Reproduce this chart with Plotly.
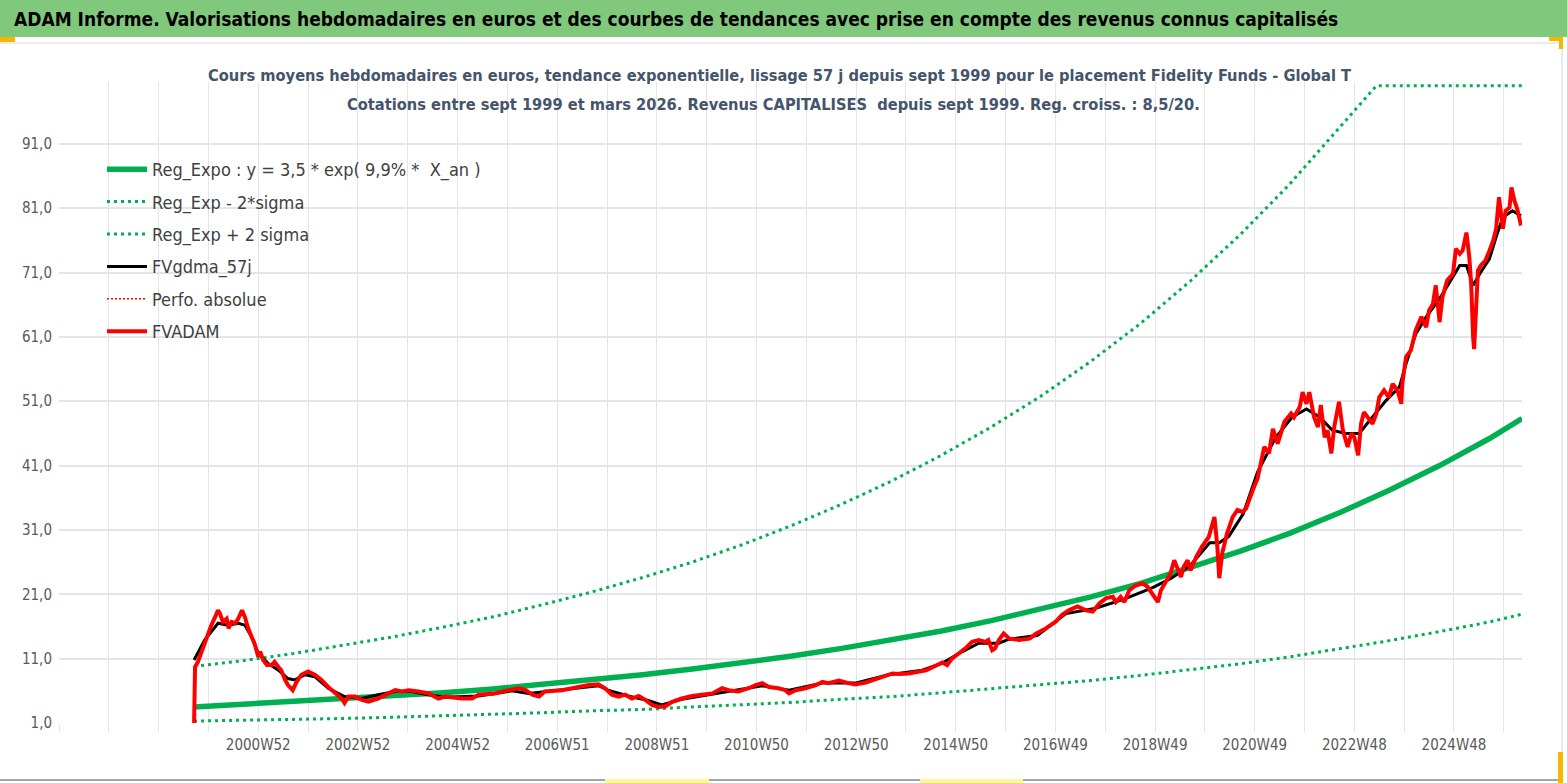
import plotly.graph_objects as go

# ---------------- data (week index 0 = 1999W36) ----------------
tick_labels = ["2000W52", "2002W52", "2004W52", "2006W51", "2008W51", "2010W50", "2012W50",
               "2014W50", "2016W49", "2018W49", "2020W49", "2022W48", "2024W48"]

trend_weeks = [0, 52, 104, 156, 208, 260, 312, 364, 416, 468, 520, 572, 624, 676, 728, 780,
               832, 884, 936, 988, 1040, 1092, 1144, 1196, 1248, 1300, 1352, 1386]
trend_vals = [3.5, 3.9, 4.3, 4.7, 5.2, 5.7, 6.3, 7.0, 7.7, 8.5, 9.4, 10.3, 11.4, 12.6, 13.9, 15.3,
              16.9, 18.7, 20.6, 22.7, 25.1, 27.7, 30.5, 33.7, 37.2, 41.0, 45.2, 48.3]
lower_vals = [1.3, 1.4, 1.6, 1.7, 1.9, 2.1, 2.3, 2.6, 2.9, 3.1, 3.5, 3.8, 4.2, 4.7, 5.1, 5.7,
              6.3, 6.9, 7.6, 8.4, 9.3, 10.2, 11.3, 12.5, 13.8, 15.2, 16.7, 17.9]
upper_weeks = [0, 52, 104, 156, 208, 260, 312, 364, 416, 468, 520, 572, 624, 676, 728, 780,
               832, 884, 936, 988, 1040, 1092, 1144, 1196, 1234, 1248, 1300, 1352, 1386]
upper_vals = [9.8, 10.7, 11.8, 13.1, 14.4, 15.9, 17.5, 19.4, 21.4, 23.6, 26.0, 28.7, 31.7, 35.0,
              38.6, 42.6, 47.0, 51.8, 57.2, 63.1, 69.7, 76.9, 84.8, 93.6, 100, 100, 100, 100, 100]

red_weeks = [0, 1, 4, 9, 15, 18, 22, 25, 27, 30, 34, 36, 39, 43, 46, 50, 53, 56, 60, 63, 67, 69, 72,
             76, 81, 84, 88, 91, 95, 98, 103, 107, 112, 119, 126, 133, 140, 147, 154, 157, 161, 168,
             175, 182, 192, 203, 210, 217, 224, 234, 245, 255, 262, 279, 290, 297, 314, 328, 339,
             346, 353, 360, 366, 384, 401, 412, 422, 429, 436, 443, 450, 457, 464, 471, 478, 485,
             492, 499, 509, 520, 530, 541, 551, 558, 568, 579, 586, 593, 600, 610, 617, 621, 628,
             638, 649, 656, 662, 673, 683, 690, 701, 711, 718, 729, 736, 746, 757, 764, 774, 781,
             786, 791, 798, 805, 812, 819, 826, 829, 833, 836, 840, 845, 851, 861, 872, 879, 889,
             899, 906, 913, 922, 931, 938, 945, 952, 959, 962, 967, 971, 976, 983, 990, 995, 1000,
             1006, 1009, 1014, 1019, 1023, 1026, 1030, 1033, 1037, 1040, 1046, 1052, 1059, 1065,
             1068, 1070, 1073, 1078, 1084, 1089, 1094, 1098, 1101, 1105, 1110, 1115, 1117, 1122,
             1126, 1131, 1138, 1145, 1148, 1154, 1157, 1161, 1164, 1169, 1173, 1176, 1180, 1183,
             1187, 1190, 1195, 1199, 1204, 1208, 1211, 1215, 1218, 1221, 1225, 1230, 1234, 1237,
             1242, 1247, 1251, 1256, 1260, 1261, 1265, 1270, 1275, 1281, 1286, 1289, 1293, 1296,
             1300, 1303, 1308, 1314, 1317, 1321, 1324, 1328, 1331, 1333, 1335, 1336, 1338, 1340,
             1343, 1348, 1352, 1356, 1359, 1362, 1366, 1369, 1373, 1375, 1378, 1381, 1385]
red_vals = [1.0, 9.7, 10.5, 12.7, 15.2, 16.2, 17.5, 18.5, 18.0, 16.7, 17.2, 15.7, 16.7, 16.5, 17.2,
            18.5, 17.5, 15.9, 14.4, 13.4, 11.3, 12.1, 10.8, 10.0, 10.0, 10.5, 9.7, 9.2, 7.7, 6.9,
            6.1, 7.4, 8.5, 9.0, 8.5, 7.7, 6.6, 5.6, 4.8, 4.1, 5.1, 5.1, 4.6, 4.3, 4.8, 5.6, 6.1,
            5.9, 6.1, 5.9, 5.6, 4.8, 5.1, 4.8, 4.8, 5.4, 5.6, 6.1, 6.4, 6.1, 5.4, 5.1, 5.9, 6.1,
            6.6, 6.9, 7.0, 6.4, 5.4, 5.1, 5.4, 4.8, 5.2, 4.6, 3.8, 3.5, 3.6, 4.3, 4.8, 5.2, 5.4,
            5.6, 6.4, 6.1, 5.9, 6.4, 6.9, 7.2, 6.6, 6.4, 6.1, 5.6, 6.1, 6.4, 6.9, 7.4, 7.2, 7.6,
            7.2, 7.0, 7.3, 7.8, 8.1, 8.7, 8.6, 8.7, 9.0, 9.2, 9.9, 10.4, 10.0, 11.0, 11.8, 12.6,
            13.6, 13.9, 13.6, 13.9, 12.3, 12.6, 13.9, 14.9, 14.1, 13.9, 14.1, 14.9, 15.7, 16.7,
            17.8, 18.5, 19.1, 18.5, 18.3, 19.6, 20.4, 20.6, 19.8, 20.6, 19.8, 21.6, 22.4, 22.7,
            22.2, 21.1, 19.8, 21.6, 22.9, 24.2, 26.3, 25.0, 23.7, 25.3, 26.3, 24.7, 26.8, 28.4,
            29.9, 33.0, 28.4, 23.5, 27.3, 30.4, 33.0, 34.1, 33.8, 34.3, 35.6, 37.2, 39.0, 42.1,
            43.9, 42.9, 46.7, 44.4, 47.8, 49.1, 48.5, 50.1, 52.4, 50.6, 52.4, 48.5, 47.0, 50.4,
            45.4, 46.5, 42.9, 47.0, 50.9, 46.5, 43.9, 46.0, 45.4, 42.6, 47.5, 49.3, 48.5, 47.5,
            49.1, 51.6, 52.7, 51.6, 53.7, 52.7, 50.6, 53.7, 57.9, 58.9, 62.0, 64.1, 62.5, 65.1,
            66.1, 69.0, 63.3, 67.2, 69.8, 70.8, 74.7, 73.9, 74.4, 77.2, 73.4, 69.0, 60.9, 59.1,
            65.1, 71.3, 72.1, 72.9, 74.4, 76.0, 77.8, 82.7, 77.8, 80.6, 81.1, 84.2, 82.2, 80.9,
            78.3]

black_weeks = [0, 11, 25, 35, 46, 53, 60, 67, 77, 88, 98, 105, 116, 126, 140, 157, 175, 192, 210,
               227, 244, 262, 297, 332, 349, 366, 401, 422, 432, 453, 474, 488, 509, 537, 565, 593,
               621, 656, 690, 725, 760, 781, 802, 819, 840, 850, 880, 910, 940, 970, 1000, 1020,
               1040, 1060, 1070, 1080, 1095, 1110, 1129, 1146, 1161, 1175, 1188, 1202, 1216, 1230,
               1244, 1258, 1265, 1275, 1286, 1300, 1314, 1321, 1328, 1335, 1342, 1352, 1359, 1366,
               1376, 1385]
black_vals = [10.8, 13.9, 16.5, 16.2, 16.5, 16.2, 14.4, 11.8, 10.3, 9.2, 7.9, 7.7, 8.5, 8.2, 6.4,
              5.1, 4.8, 5.4, 5.9, 5.9, 5.4, 5.0, 5.2, 6.0, 5.6, 5.9, 6.5, 6.8, 6.1, 5.2, 4.5, 3.8,
              4.7, 5.4, 6.1, 6.8, 6.1, 7.2, 7.2, 8.5, 9.2, 10.3, 12.1, 13.4, 13.4, 14.0, 14.6, 18.0,
              18.8, 20.2, 22.0, 23.5, 25.5, 29.0, 29.0, 30.0, 33.5, 40.0, 45.4, 48.5, 49.8, 48.5,
              46.5, 46.0, 46.0, 48.5, 51.1, 53.2, 56.8, 61.4, 64.1, 66.9, 70.3, 72.1, 72.1, 69.0,
              70.8, 73.1, 76.5, 79.6, 80.6, 79.8]

y_ticks = [1, 11, 21, 31, 41, 51, 61, 71, 81, 91]

# ---------------- layout geometry (pixels) ----------------
W, H = 1567, 783
L, R, T, B = 59, 1522, 82, 723
X_MIN, X_MAX = -141, 1386
Y_MIN, Y_MAX = 1, 100.6


def px(x):
    return (x - L) / (R - L)


def py(y):
    return (B - y) / (B - T)


FONT = "DejaVu Sans Condensed, Liberation Sans Narrow, Arial Narrow, sans-serif"
GREEN = "#00B050"
GRID = "#E3E5EB"
DOT = "3px,4px"

fig = go.Figure()
fig.add_trace(go.Scatter(x=trend_weeks, y=trend_vals, mode="lines", legendgroup="a",
                         name="Reg_Expo : y = 3,5 * exp( 9,9% *  X_an )",
                         line=dict(color=GREEN, width=5.5)))
fig.add_trace(go.Scatter(x=trend_weeks, y=lower_vals, mode="lines", name="Reg_Exp - 2*sigma",
                         legendgroup="b", line=dict(color=GREEN, width=3, dash=DOT)))
fig.add_trace(go.Scatter(x=upper_weeks, y=upper_vals, mode="lines", name="Reg_Exp + 2 sigma",
                         legendgroup="c", line=dict(color=GREEN, width=3, dash=DOT)))
fig.add_trace(go.Scatter(x=black_weeks, y=black_vals, mode="lines", name="FVgdma_57j",
                         legendgroup="d", line=dict(color="black", width=3)))
fig.add_trace(go.Scatter(x=red_weeks, y=red_vals, mode="lines", name="Perfo. absolue",
                         legendgroup="e", line=dict(color="#FF0000", width=1.5, dash="2px,2px")))
fig.add_trace(go.Scatter(x=red_weeks, y=red_vals, mode="lines", name="FVADAM",
                         legendgroup="f", line=dict(color="#FF0000", width=4)))

grid_vals = list(range(X_MIN, X_MAX, 52))
grid_text = []
for g in grid_vals:
    k = (g - 67)
    if k >= 0 and k % 104 == 0 and k // 104 < len(tick_labels):
        grid_text.append(tick_labels[k // 104])
    else:
        grid_text.append("")

shapes = [
    dict(type="rect", xref="paper", yref="paper", x0=px(0), x1=px(W), y0=py(37), y1=py(-2),
         fillcolor="#80C87C", line=dict(width=0), layer="below"),
    dict(type="line", xref="paper", yref="paper", x0=px(0), x1=px(1562), y0=py(43), y1=py(43),
         line=dict(color=GRID, width=1.5)),
    dict(type="line", xref="paper", yref="paper", x0=px(1562), x1=px(1562), y0=py(43), y1=py(781),
         line=dict(color=GRID, width=1.5)),
    dict(type="line", xref="paper", yref="paper", x0=px(0), x1=px(1562), y0=py(780), y1=py(780),
         line=dict(color="#A6A6A6", width=2)),
    dict(type="rect", xref="paper", yref="paper", x0=px(0), x1=px(15), y0=py(42), y1=py(37),
         fillcolor="#F5B800", line=dict(width=0)),
    dict(type="rect", xref="paper", yref="paper", x0=px(1549), x1=px(1563), y0=py(41), y1=py(37),
         fillcolor="#F5B800", line=dict(width=0)),
    dict(type="rect", xref="paper", yref="paper", x0=px(1559), x1=px(1563), y0=py(49), y1=py(37),
         fillcolor="#F5B800", line=dict(width=0)),
    dict(type="rect", xref="paper", yref="paper", x0=px(1558), x1=px(1563), y0=py(783), y1=py(752),
         fillcolor="#F5B800", line=dict(width=0)),
    dict(type="rect", xref="paper", yref="paper", x0=px(605), x1=px(709), y0=py(783), y1=py(779),
         fillcolor="#FFF59D", line=dict(width=0)),
    dict(type="rect", xref="paper", yref="paper", x0=px(920), x1=px(1023), y0=py(783), y1=py(779),
         fillcolor="#FFF59D", line=dict(width=0)),
]

annotations = [
    dict(xref="paper", yref="paper", x=px(12), y=py(19), xanchor="left", yanchor="middle",
         text="<b>ADAM Informe. Valorisations hebdomadaires en euros et des courbes de tendances avec prise en compte des revenus connus capitalisés</b>",
         showarrow=False, font=dict(family=FONT, size=19, color="black")),
    dict(xref="paper", yref="paper", x=px(779), y=py(75), xanchor="center", yanchor="middle",
         text="<b>Cours moyens hebdomadaires en euros, tendance exponentielle, lissage 57 j depuis sept 1999 pour le placement Fidelity Funds - Global T</b>",
         showarrow=False, font=dict(family=FONT, size=16.3, color="#44546A")),
    dict(xref="paper", yref="paper", x=px(773), y=py(104), xanchor="center", yanchor="middle",
         text="<b>Cotations entre sept 1999 et mars 2026. Revenus CAPITALISES  depuis sept 1999. Reg. croiss. : 8,5/20.</b>",
         showarrow=False, font=dict(family=FONT, size=16.3, color="#44546A")),
]

fig.update_layout(
    width=W, height=H,
    margin=dict(l=L, r=W - R, t=T, b=H - B, pad=0),
    paper_bgcolor="white", plot_bgcolor="white",
    separators=", ",
    font=dict(family=FONT, color="#595959", size=15),
    showlegend=True,
    legend=dict(x=px(102), y=py(151), xanchor="left", yanchor="top",
                bgcolor="rgba(255,255,255,0)", font=dict(family=FONT, size=18, color="#404040"),
                itemwidth=40, tracegroupgap=6),
    shapes=shapes,
    annotations=annotations,
    xaxis=dict(range=[X_MIN, X_MAX], tickmode="array", tickvals=grid_vals, ticktext=grid_text,
               showgrid=True, gridcolor=GRID, gridwidth=1, zeroline=False,
               ticks="outside", ticklen=8, tickcolor=GRID, tickwidth=1,
               showline=False, tickfont=dict(family=FONT, size=15, color="#595959")),
    yaxis=dict(range=[Y_MIN, Y_MAX], tickmode="array", tickvals=y_ticks,
               tickformat=".1f", showgrid=True, gridcolor=GRID, gridwidth=1.5, zeroline=False,
               ticks="", showline=False, ticklabelstandoff=6,
               tickfont=dict(family=FONT, size=15, color="#595959")),
)

fig.write_html("out.html", config={"displayModeBar": False},
               post_script="document.body.style.margin='0px';document.body.style.overflow='hidden';")
